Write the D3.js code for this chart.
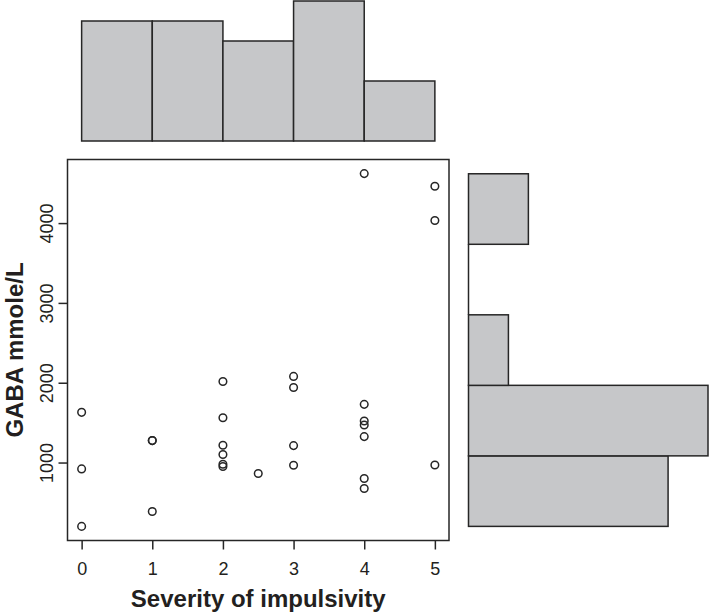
<!DOCTYPE html>
<html>
<head>
<meta charset="utf-8">
<script src="https://cdn.jsdelivr.net/npm/d3@7"></script>
<style>
  html, body { margin: 0; padding: 0; background: #fff; }
  svg { display: block; }
  text { font-family: "Liberation Sans", Arial, Helvetica, sans-serif; fill: #231f20; }
</style>
</head>
<body>
<svg id="chart" width="709" height="614"></svg>
<script>
// ---- data ----
const impulsivity = [0, 0, 0, 1, 1, 1, 2, 2, 2, 2, 2, 2, 2.5, 3, 3, 3, 3, 4, 4, 4, 4, 4, 4, 4, 5, 5, 5];
const gaba        = [1629, 920, 200, 1275, 1275, 387, 2016, 1562, 1216, 1100, 979, 950, 862, 2079, 1941, 1212, 966, 4620, 1729, 1521, 1471, 1325, 800, 675, 4462, 4033, 970];

const xTicks = [0, 1, 2, 3, 4, 5];
const yTicks = [1000, 2000, 3000, 4000];

// top histogram (impulsivity): bin breaks and counts
const xBreaks = [0, 1, 2, 3, 4, 5];
const xCounts = [6, 6, 5, 7, 3];
// right histogram (GABA): bin breaks and counts
const yBreaks = [200, 1083.6, 1967.2, 2850.8, 3734.4, 4618];
const yCounts = [10, 12, 2, 0, 3];

const xLabel = "Severity of impulsivity";
const yLabel = "GABA mmole/L";

// ---- layout ----
const box = { left: 67.5, right: 449, top: 159.5, bottom: 540.5 };
const ink = "#262626";
const fillGrey = "#c6c7c9";
const lw = 1.5;

const svg = d3.select("#chart");

// scales (R-style 4% padding)
const xExt = d3.extent(impulsivity), yExt = d3.extent(gaba);
const xPad = (xExt[1] - xExt[0]) * 0.04, yPad = (yExt[1] - yExt[0]) * 0.04;
const x = d3.scaleLinear().domain([xExt[0] - xPad, xExt[1] + xPad]).range([box.left, box.right]);
const y = d3.scaleLinear().domain([yExt[0] - yPad, yExt[1] + yPad]).range([box.bottom, box.top]);

// ---- main scatter ----
svg.append("rect")
  .attr("x", box.left).attr("y", box.top)
  .attr("width", box.right - box.left).attr("height", box.bottom - box.top)
  .attr("fill", "none").attr("stroke", ink).attr("stroke-width", lw);

// x axis
const xAxis = svg.append("g").attr("transform", `translate(0,${box.bottom})`)
  .call(d3.axisBottom(x).tickValues(xTicks).tickSize(9).tickPadding(13).tickFormat(d3.format("d")));
xAxis.select(".domain").remove();
xAxis.selectAll("line").attr("stroke", ink).attr("stroke-width", lw);
xAxis.selectAll("text").attr("font-size", 18).attr("fill", "#231f20")
  .style("font-family", "'Liberation Sans', Arial, sans-serif");

// y axis
const yAxis = svg.append("g").attr("transform", `translate(${box.left},0)`)
  .call(d3.axisLeft(y).tickValues(yTicks).tickSize(9).tickFormat(d3.format("d")));
yAxis.select(".domain").remove();
yAxis.selectAll("line").attr("stroke", ink).attr("stroke-width", lw);
yAxis.selectAll("text")
  .attr("x", null).attr("dy", null)
  .attr("text-anchor", "middle")
  .attr("transform", "translate(-15,0) rotate(-90)")
  .attr("font-size", 18).attr("fill", "#231f20")
  .style("font-family", "'Liberation Sans', Arial, sans-serif");

// points
svg.append("g").selectAll("circle")
  .data(impulsivity.map((v, i) => ({ x: v, y: gaba[i] })))
  .join("circle")
  .attr("cx", d => x(d.x)).attr("cy", d => y(d.y)).attr("r", 3.8)
  .attr("fill", "none").attr("stroke", ink).attr("stroke-width", lw);

// axis titles
svg.append("text")
  .attr("x", (box.left + box.right) / 2).attr("y", 607)
  .attr("text-anchor", "middle").attr("font-size", 24).attr("font-weight", "bold")
  .text(xLabel);
svg.append("text")
  .attr("transform", `translate(23,${(box.top + box.bottom) / 2}) rotate(-90)`)
  .attr("text-anchor", "middle").attr("font-size", 24).attr("font-weight", "bold")
  .text(yLabel);

// ---- top histogram ----
const topCount = d3.scaleLinear().domain([0, 7]).range([141, 1]);
svg.append("g").selectAll("rect")
  .data(xCounts.map((c, i) => ({ x0: xBreaks[i], x1: xBreaks[i + 1], c })))
  .join("rect")
  .attr("x", d => x(d.x0)).attr("width", d => x(d.x1) - x(d.x0))
  .attr("y", d => topCount(d.c)).attr("height", d => topCount(0) - topCount(d.c))
  .attr("fill", fillGrey).attr("stroke", ink).attr("stroke-width", lw);

// ---- right histogram ----
const sideCount = d3.scaleLinear().domain([0, 12]).range([468.5, 708]);
const sideBins = yCounts.map((c, i) => ({ y0: yBreaks[i], y1: yBreaks[i + 1], c }));
const sideG = svg.append("g");
sideG.selectAll("rect")
  .data(sideBins.filter(d => d.c > 0))
  .join("rect")
  .attr("x", sideCount(0)).attr("width", d => sideCount(d.c) - sideCount(0))
  .attr("y", d => y(d.y1)).attr("height", d => y(d.y0) - y(d.y1))
  .attr("fill", fillGrey).attr("stroke", ink).attr("stroke-width", lw);
// empty bins collapse to a line on the baseline
sideG.selectAll("line")
  .data(sideBins.filter(d => d.c === 0))
  .join("line")
  .attr("x1", sideCount(0)).attr("x2", sideCount(0))
  .attr("y1", d => y(d.y1)).attr("y2", d => y(d.y0))
  .attr("stroke", ink).attr("stroke-width", lw);
</script>
</body>
</html>
